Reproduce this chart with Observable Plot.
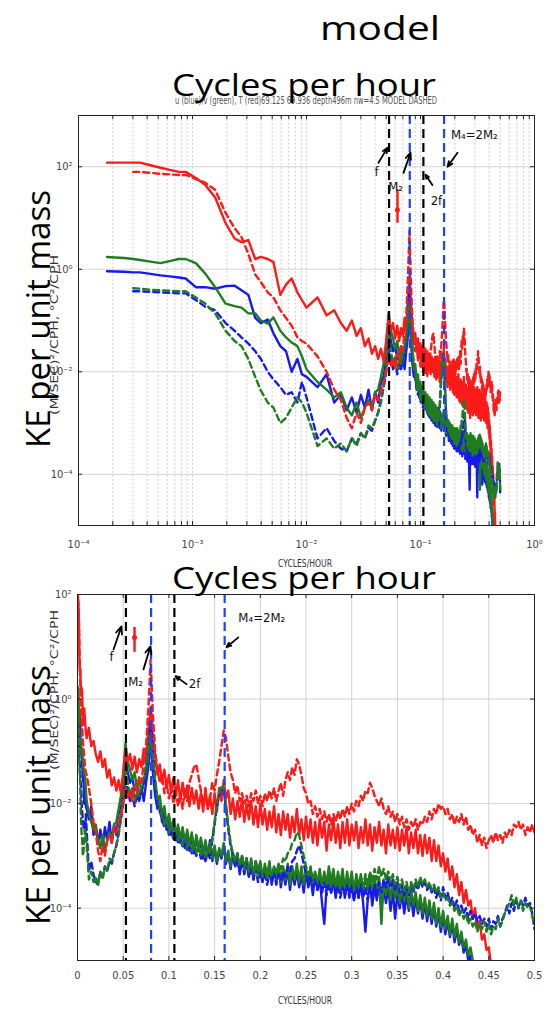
<!DOCTYPE html>
<html><head><meta charset="utf-8">
<script src="https://cdn.jsdelivr.net/npm/d3@7"></script>
<script src="https://cdn.jsdelivr.net/npm/@observablehq/plot@0.6"></script>
<style>
body{margin:0;background:#fff;width:552px;height:1009px;overflow:hidden;position:relative}
#topPanel,#botPanel{position:absolute;left:0}
#topPanel{top:0px}
#botPanel{top:580px}
#overlay{position:absolute;left:0;top:0;pointer-events:none}
</style></head><body>
<div id="topPanel"></div><div id="botPanel"></div>
<svg id="overlay" width="552" height="1009"></svg>
<script>
// ---------- DATA (log10 of spectral density) ----------
// low-frequency band-averaged estimates (cph)
const lowFreq = [0.000178,0.000251,0.000302,0.000347,0.000427,0.000525,0.000631,0.000759,0.000871,0.00107,
  0.00129,0.00158,0.00195,0.00234,0.00269,0.00309,0.00355,0.00398,0.00457,0.00513,
  0.00589,0.00661,0.00741,0.00832,0.00912];
// high-frequency estimates on a regular 0.0025 cph grid from 0.01 to 0.5 cph
const highFreq = d3.range(197).map(i => +(0.01 + 0.0025 * i).toFixed(4));
const freq = lowFreq.concat(highFreq);

const uObs = [-0.04,-0.05,-0.06,-0.06,-0.09,-0.12,-0.14,-0.16,-0.18,-0.35,-0.35,-0.38,-0.33,-0.32,-0.41,-0.5,-0.95,-1.05,-0.98,-1.25,-1.5,-1.6,-2.0,-1.75,-2.05,
 -2.1,-2.3,-2.05,-2.6,-2.45,-2.75,-2.5,-2.8,-2.45,-2.7,
 -2.35,-2.75,-2.4,-2.6,-2.2,-2.1,-1.75,-1.1,-1.4,-1.6,
 -1.5,-1.75,-1.6,-1.9,-1.7,-1.95,-1.6,-1.3,-0.8,-1.4,
 -1.85,-2.1,-2.0,-2.35,-2.15,-2.5,-2.3,-2.6,-2.35,-2.7,
 -2.45,-2.75,-2.5,-2.85,-2.55,-2.9,-2.6,-2.95,-2.65,-2.9,
 -2.7,-3.05,-2.75,-3.0,-2.7,-3.1,-2.85,-3.15,-2.9,-3.05,
 -2.8,-3.15,-2.95,-3.25,-2.95,-3.2,-3.0,-3.35,-3.0,-3.3,
 -3.05,-3.4,-3.1,-3.45,-3.1,-3.35,-3.15,-3.5,-3.2,-3.45,
 -3.15,-3.55,-3.25,-3.5,-3.2,-3.6,-3.3,-3.55,-3.25,-3.65,
 -3.3,-3.55,-3.3,-3.6,-3.35,-3.7,-3.3,-3.6,-3.4,-3.75,
 -3.35,-3.65,-3.4,-3.9,-4.3,-3.6,-3.35,-3.7,-3.4,-3.8,
 -3.45,-3.7,-3.4,-3.8,-3.5,-3.75,-3.45,-3.85,-3.5,-3.8,
 -3.5,-3.9,-4.45,-3.85,-3.5,-3.95,-3.6,-3.85,-3.55,-4.0,
 -3.6,-3.9,-3.6,-4.05,-3.65,-4.2,-3.7,-4.0,-3.7,-4.1,
 -3.75,-4.05,-3.75,-4.15,-3.8,-4.1,-3.85,-4.2,-3.9,-4.25,
 -3.95,-4.3,-4.0,-4.35,-4.1,-4.45,-4.15,-4.5,-4.25,-4.55,
 -4.3,-4.65,-4.4,-4.7,-4.55,-4.85,-4.7,-5.0,-4.9,-5.2,
 -5.4,null,null,null,null,null,null,null,null,null,
 null,null,null,null,null,null,null,null,null,null,
 null,null,null,null,null,null,null];

const vObs = [0.24,0.22,0.2,0.18,0.15,0.12,0.16,0.2,0.2,0.12,-0.08,-0.35,-0.67,-0.72,-0.75,-0.86,-0.86,-1.0,-1.06,-0.94,-1.2,-1.33,-1.43,-1.5,-1.7,
 -1.95,-2.2,-2.35,-2.5,-2.4,-2.7,-2.85,-2.6,-2.9,-2.7,
 -2.55,-2.7,-2.4,-2.35,-2.1,-1.85,-1.5,-0.85,-1.2,-1.35,
 -1.55,-1.4,-1.7,-1.5,-1.8,-1.6,-1.4,-1.05,-0.6,-1.2,
 -1.6,-1.95,-1.85,-2.2,-2.05,-2.4,-2.2,-2.5,-2.3,-2.6,
 -2.4,-2.7,-2.45,-2.75,-2.5,-2.8,-2.55,-2.9,-2.6,-2.85,
 -2.65,-2.95,-2.7,-3.0,-2.75,-3.05,-2.8,-3.1,-2.85,-3.0,
 -2.75,-3.1,-2.9,-3.2,-2.95,-3.15,-2.95,-3.3,-3.0,-3.25,
 -3.05,-3.35,-3.05,-3.4,-3.1,-3.3,-3.1,-3.45,-3.15,-3.4,
 -3.1,-3.5,-3.2,-3.45,-3.15,-3.5,-3.2,-3.45,-3.15,-3.55,
 -3.2,-3.45,-3.15,-3.5,-3.2,-3.55,-3.25,-3.5,-3.2,-3.6,
 -3.3,-3.55,-3.25,-3.6,-3.3,-3.55,-3.2,-3.5,-3.25,-3.6,
 -3.3,-3.55,-3.25,-3.65,-3.3,-3.6,-3.3,-3.7,-3.35,-3.6,
 -3.35,-3.7,-3.4,-3.65,-3.35,-3.75,-3.4,-3.7,-3.4,-4.3,
 -3.45,-3.75,-3.45,-3.85,-3.5,-3.8,-3.55,-3.9,-3.6,-3.85,
 -3.6,-4.0,-3.65,-3.95,-3.7,-4.05,-3.75,-4.1,-3.8,-4.15,
 -3.85,-4.2,-3.9,-4.3,-4.0,-4.35,-4.05,-4.4,-4.15,-4.5,
 -4.2,-4.55,-4.3,-4.65,-4.45,-4.75,-4.6,-4.9,-4.75,-5.0,
 -5.1,-5.3,null,null,null,null,null,null,null,null,
 null,null,null,null,null,null,null,null,null,null,
 null,null,null,null,null,null,null];

const tObs = [2.08,2.08,2.08,2.08,2.03,1.98,1.94,1.9,1.9,1.78,1.65,1.4,0.9,0.6,0.53,0.57,0.2,0.24,0.2,0.14,-0.5,-0.3,-0.18,-0.45,-0.6,
 -0.75,-0.55,-0.9,-0.8,-1.05,-1.2,-1.0,-1.3,-1.15,-1.5,
 -1.35,-1.65,-1.5,-1.75,-1.55,-1.8,-1.4,-0.95,-1.2,-1.05,
 -1.35,-1.1,-1.4,-1.15,-1.3,-0.95,-1.2,-0.6,-0.15,-0.7,
 -1.1,-1.45,-1.25,-1.6,-1.35,-1.7,-1.45,-1.8,-1.5,-1.85,
 -1.55,-1.95,-1.6,-1.9,-1.65,-2.05,-1.7,-2.0,-1.75,-2.1,
 -1.8,-2.15,-1.7,-2.1,-1.85,-2.2,-1.8,-2.15,-1.7,-1.95,
 -1.55,-1.9,-1.75,-2.2,-1.9,-2.3,-1.95,-2.25,-1.9,-2.35,
 -2.0,-2.3,-1.95,-2.4,-2.05,-2.45,-2.0,-2.4,-2.1,-2.5,
 -2.15,-2.45,-2.05,-2.55,-2.2,-2.6,-2.15,-2.5,-2.2,-2.65,
 -2.25,-2.55,-2.1,-2.6,-2.3,-2.7,-2.25,-2.65,-2.3,-2.75,
 -2.35,-2.8,-2.3,-2.65,-2.35,-2.9,-2.4,-2.7,-2.3,-2.75,
 -2.4,-2.85,-2.35,-2.75,-2.3,-2.8,-2.4,-2.7,-2.35,-2.85,
 -2.45,-2.75,-2.3,-2.8,-2.4,-2.9,-2.45,-2.75,-2.35,-2.8,
 -2.5,-2.95,-2.4,-2.8,-2.5,-2.85,-2.45,-2.9,-2.5,-2.8,
 -2.45,-2.95,-2.55,-2.85,-2.5,-2.95,-2.6,-3.0,-2.6,-2.95,
 -2.65,-3.1,-2.7,-3.1,-2.8,-3.2,-2.95,-3.3,-3.05,-3.45,
 -3.2,-3.6,-3.35,-3.75,-3.5,-3.9,-3.65,-3.95,-3.85,-4.2,
 -4.0,-4.4,-4.25,-4.6,-4.5,-4.8,-4.75,-5.1,-5.3,null,
 null,null,null,null,null,null,null,null,null,null,
 null,null,null,null,null,null,null];

const uMod = [null,null,-0.43,-0.43,-0.44,-0.45,-0.46,-0.47,-0.47,-0.6,-0.73,-0.8,-1.05,-1.2,-1.33,-1.45,-1.6,-1.75,-2.0,-2.15,-2.3,-2.45,-2.4,-2.6,-2.2,
 -2.5,-3.3,-3.1,-3.35,-3.5,-3.55,-3.3,-3.4,-3.2,-3.3,
 -3.1,-3.15,-2.95,-2.8,-2.55,-2.3,-2.0,-1.5,-1.75,-1.95,
 -1.8,-2.05,-1.85,-1.95,-1.75,-1.6,-1.3,-0.9,-0.45,-1.0,
 -1.6,-1.95,-2.15,-2.3,-2.45,-2.35,-2.6,-2.45,-2.7,-2.55,
 -2.75,-2.6,-2.85,-2.7,-2.9,-2.75,-2.95,-2.8,-3.0,-2.85,
 -3.05,-2.9,-3.1,-2.95,-3.05,-2.7,-2.4,-2.05,-1.85,-1.7,
 -1.75,-2.1,-2.5,-2.8,-3.0,-3.2,-3.05,-3.3,-3.1,-3.35,
 -3.15,-3.4,-3.2,-3.45,-3.25,-3.5,-3.3,-3.5,-3.3,-3.55,
 -3.35,-3.5,-3.3,-3.55,-3.35,-3.45,-3.3,-3.4,-3.2,-3.3,
 -3.1,-3.05,-2.9,-2.8,-2.95,-3.15,-3.35,-3.5,-3.4,-3.6,
 -3.45,-3.65,-3.5,-3.7,-3.5,-3.75,-3.55,-3.7,-3.5,-3.75,
 -3.55,-3.8,-3.6,-3.75,-3.55,-3.8,-3.6,-3.85,-3.6,-3.8,
 -3.55,-3.8,-3.6,-3.85,-3.6,-3.8,-3.55,-3.75,-3.5,-3.7,
 -3.45,-3.6,-3.4,-3.6,-3.45,-3.65,-3.5,-3.7,-3.55,-3.75,
 -3.6,-3.75,-3.55,-3.7,-3.5,-3.65,-3.45,-3.6,-3.5,-3.65,
 -3.55,-3.7,-3.6,-3.8,-3.65,-3.85,-3.6,-3.8,-3.7,-3.9,
 -3.8,-4.0,-3.85,-4.05,-3.95,-4.1,-4.0,-4.2,-4.05,-4.2,
 -4.1,-4.25,-4.15,-4.3,-4.2,-4.35,-4.2,-4.4,-4.25,-4.3,
 -4.15,-4.35,-4.2,-4.1,-3.95,-4.1,-3.9,-4.05,-3.85,-4.0,
 -3.85,-3.95,-3.8,-3.95,-3.9,-4.1,-4.4];

const vMod = [null,null,-0.37,-0.38,-0.4,-0.41,-0.42,-0.43,-0.43,-0.55,-0.67,-0.86,-1.2,-1.4,-1.5,-1.75,-2.1,-2.37,-2.6,-2.7,-3.0,-2.9,-2.7,-2.5,-2.6,
 -2.8,-3.45,-3.3,-3.5,-3.4,-3.55,-3.3,-3.45,-3.2,-3.3,
 -3.05,-3.1,-2.95,-2.8,-2.6,-2.3,-1.9,-1.3,-1.6,-1.85,
 -1.7,-1.95,-1.75,-1.85,-1.65,-1.5,-1.25,-0.95,-0.65,-1.1,
 -1.55,-1.9,-2.05,-2.25,-2.4,-2.3,-2.55,-2.4,-2.65,-2.5,
 -2.7,-2.55,-2.8,-2.65,-2.85,-2.7,-2.9,-2.75,-2.95,-2.8,
 -3.0,-2.85,-3.05,-2.9,-2.95,-2.65,-2.35,-2.0,-1.8,-1.65,
 -1.7,-2.0,-2.4,-2.75,-2.95,-3.1,-2.95,-3.2,-3.0,-3.25,
 -3.05,-3.3,-3.1,-3.35,-3.15,-3.4,-3.2,-3.4,-3.2,-3.45,
 -3.25,-3.4,-3.2,-3.35,-3.15,-3.25,-3.05,-3.1,-2.95,-2.9,
 -2.75,-2.7,-2.55,-2.6,-2.8,-3.0,-3.2,-3.35,-3.25,-3.45,
 -3.3,-3.5,-3.35,-3.55,-3.35,-3.55,-3.4,-3.6,-3.4,-3.6,
 -3.45,-3.65,-3.45,-3.6,-3.4,-3.6,-3.4,-3.65,-3.45,-3.6,
 -3.4,-3.6,-3.35,-3.55,-3.3,-3.5,-3.25,-3.45,-3.2,-3.4,
 -3.25,-3.45,-3.3,-3.5,-3.35,-3.55,-3.4,-3.6,-3.45,-3.65,
 -3.5,-3.7,-3.5,-3.65,-3.45,-3.6,-3.4,-3.55,-3.45,-3.6,
 -3.5,-3.65,-3.55,-3.7,-3.6,-3.8,-3.7,-3.85,-3.8,-3.95,
 -3.9,-4.05,-3.95,-4.15,-4.05,-4.2,-4.1,-4.3,-4.2,-4.35,
 -4.25,-4.45,-4.3,-4.4,-4.25,-4.45,-4.3,-4.5,-4.35,-4.4,
 -4.2,-4.35,-4.25,-4.1,-4.0,-3.9,-3.75,-3.95,-3.8,-4.0,
 -3.85,-4.05,-3.9,-4.0,-3.95,-4.15,-4.3];

const tMod = [null,null,1.9,1.9,1.88,1.86,1.85,1.84,1.84,1.76,1.69,1.55,1.1,0.8,0.63,0.3,-0.1,-0.25,-0.45,-0.55,-0.8,-0.95,-1.1,-1.33,-1.4,
 -1.45,-1.7,-2.0,-2.35,-2.55,-2.9,-3.1,-2.8,-3.0,-2.7,
 -2.6,-2.75,-2.45,-2.55,-2.35,-2.2,-2.0,-1.7,-1.9,-1.75,
 -1.95,-1.65,-1.8,-1.5,-1.6,-1.2,-0.9,-0.2,0.75,-0.3,
 -1.0,-1.35,-1.6,-1.45,-1.8,-1.6,-1.9,-1.7,-2.0,-1.75,
 -2.05,-1.8,-2.1,-1.7,-1.95,-1.6,-1.45,-1.3,-1.25,-1.5,
 -1.75,-2.0,-1.85,-2.1,-1.9,-1.6,-1.75,-1.45,-1.2,-0.9,
 -0.6,-0.75,-1.1,-1.4,-1.55,-1.8,-1.65,-1.95,-1.8,-2.0,
 -1.85,-2.05,-1.8,-1.95,-1.75,-2.0,-1.85,-2.05,-1.8,-1.95,
 -1.75,-1.9,-1.7,-1.95,-1.75,-1.6,-1.85,-1.55,-1.4,-1.55,
 -1.3,-1.45,-1.15,-1.25,-1.45,-1.7,-1.8,-2.0,-1.95,-2.2,
 -2.05,-2.25,-2.1,-2.3,-2.15,-2.35,-2.2,-2.4,-2.2,-2.35,
 -2.15,-2.3,-2.1,-2.25,-2.05,-2.2,-2.0,-2.15,-1.95,-2.05,
 -1.85,-1.95,-1.75,-1.8,-1.6,-1.7,-1.85,-1.95,-2.05,-1.9,
 -2.1,-2.2,-2.05,-2.25,-2.15,-2.35,-2.2,-2.4,-2.25,-2.45,
 -2.3,-2.5,-2.35,-2.45,-2.3,-2.5,-2.35,-2.4,-2.25,-2.35,
 -2.15,-2.3,-2.1,-2.2,-2.0,-2.1,-2.05,-2.2,-2.1,-2.3,
 -2.2,-2.4,-2.25,-2.35,-2.2,-2.4,-2.25,-2.5,-2.4,-2.6,
 -2.5,-2.75,-2.6,-2.8,-2.65,-2.85,-2.7,-2.6,-2.75,-2.55,
 -2.7,-2.6,-2.75,-2.55,-2.65,-2.5,-2.6,-2.4,-2.45,-2.35,
 -2.5,-2.4,-2.6,-2.45,-2.55,-2.4,-2.55];

// reference frequencies (cph)
const refBlack = [0.053, 0.106];   // f, 2f
const refBlue  = [0.0805, 0.161];  // M2, M4
// tick values
const xTicksLog = [1e-4, 1e-3, 1e-2, 1e-1, 1];
const xTicksLin = [0,0.05,0.1,0.15,0.2,0.25,0.3,0.35,0.4,0.45,0.5];
const yTicks = [1e2, 1, 1e-2, 1e-4];

// annotations (data coordinates)
const topArrows = [
  {x1:0.0428, y1:120, x2:0.0514, y2:236},
  {x1:0.0710, y1:76,  x2:0.0817, y2:188},
  {x1:0.127,  y1:44,  x2:0.1107, y2:70},
  {x1:0.211,  y1:188, x2:0.1726, y2:100}];
const topLabels = [
  {x:0.0411, y:79, text:"f", anchor:"middle"},
  {x:0.0604, y:41, text:"M₂", anchor:"middle"},
  {x:0.138,  y:22, text:"2f", anchor:"middle"},
  {x:0.185,  y:423, text:"M₄=2M₂", anchor:"start"}];
const topBar = [{x:0.0628, y1:35.6, y2:7.9, y:14.4}];
const botArrows = [
  {x1:0.0394, y1:8.9,  x2:0.0481, y2:24.5},
  {x1:0.0722, y1:3.7,  x2:0.0799, y2:10.2},
  {x1:0.1193, y1:1.93, x2:0.1072, y2:2.74},
  {x1:0.176,  y1:15.1, x2:0.163,  y2:9.8}];
const botLabels = [
  {x:0.0372, y:6.3, text:"f", anchor:"middle"},
  {x:0.0635, y:2.1, text:"M₂", anchor:"middle"},
  {x:0.128,  y:1.94, text:"2f", anchor:"middle"},
  {x:0.176,  y:36, text:"M₄=2M₂", anchor:"start"}];
const botBar = [{x:0.0624, y1:23.4, y2:7.85, y:15.1}];

// ---------- STYLE ----------
const RED = "#ff1a1a", BLUE = "#1818f0", GREEN = "#1f7d1f", REFBLUE = "#2040ff";
const SMALL = '"Liberation Sans Narrow","DejaVu Sans Condensed","Arial Narrow",sans-serif';
const BIG = '"Open Sans","Noto Sans",sans-serif';
const seriesDefs = [
  {vals:uObs, color:BLUE, dash:false},
  {vals:vObs, color:GREEN, dash:false},
  {vals:tObs, color:RED, dash:false},
  {vals:uMod, color:BLUE, dash:true},
  {vals:vMod, color:GREEN, dash:true},
  {vals:tMod, color:RED, dash:true}];

const sup = s => String(s).replace(/[-0-9]/g, c => ({"-":"⁻","0":"⁰","1":"¹","2":"²","3":"³","4":"⁴","5":"⁵"}[c]));
const fmtPow = d => "10" + sup(Math.round(Math.log10(d)));

function lineMarks() {
  return seriesDefs.map(s => Plot.line(
    freq.map((f, i) => ({f, p: s.vals[i] == null ? NaN : Math.pow(10, s.vals[i])})),
    {x:"f", y:"p", stroke:s.color, strokeWidth:2.4, strokeDasharray: s.dash ? "6,4" : undefined, clip:true}));
}
function annoMarks(arrows, labels, bar) {
  return [
    Plot.ruleX(bar, {x:"x", y1:"y1", y2:"y2", stroke:RED, strokeWidth:2.5}),
    Plot.dot(bar, {x:"x", y:"y", r:2.5, fill:RED}),
    Plot.arrow(arrows, {x1:"x1", y1:"y1", x2:"x2", y2:"y2", stroke:"#000", strokeWidth:1.8, headLength:10, headAngle:45}),
    Plot.text(labels.filter(d => d.anchor === "middle"), {x:"x", y:"y", text:"text", fontSize:13, fontFamily:SMALL, fill:"#111", textAnchor:"middle"}),
    Plot.text(labels.filter(d => d.anchor === "start"), {x:"x", y:"y", text:"text", fontSize:13, fontFamily:SMALL, fill:"#111", textAnchor:"start"})
  ];
}
function tickMarks(xs, ys, innerW, innerH) {
  return [
    Plot.tickX(xs, {insetTop: innerH - 4, stroke:"#222"}),
    Plot.tickX(xs, {insetBottom: innerH - 4, stroke:"#222"}),
    Plot.tickY(ys, {insetRight: innerW - 4, stroke:"#222"}),
    Plot.tickY(ys, {insetLeft: innerW - 4, stroke:"#222"})
  ];
}

// ---------- TOP PANEL (log-log) ----------
const xMinor = [];
for (const e of [-4,-3,-2,-1]) for (let k = 1; k < 10; k++) xMinor.push(k * Math.pow(10, e));
xMinor.push(1);

const topChart = Plot.plot({
  width:552, height:580, marginLeft:78, marginRight:18, marginTop:115, marginBottom:55,
  style:{background:"transparent", overflow:"visible"},
  x:{type:"log", domain:[1e-4, 1]},
  y:{type:"log", domain:[1e-5, 1e3]},
  marks:[
    Plot.ruleX(xMinor, {stroke:"#c4c4c4", strokeDasharray:"1.5,2.5"}),
    Plot.ruleY(yTicks, {stroke:"#d2d2d2"}),
    ...lineMarks(),
    Plot.ruleX(refBlack, {stroke:"#000", strokeWidth:2.2, strokeDasharray:"9,5"}),
    Plot.ruleX(refBlue, {stroke:REFBLUE, strokeWidth:2.2, strokeDasharray:"9,5"}),
    ...annoMarks(topArrows, topLabels, topBar),
    Plot.frame({stroke:"#222"}),
    ...tickMarks(xMinor, yTicks, 456, 410),
    Plot.axisX(xTicksLog, {tickFormat:fmtPow, tickSize:0, tickPadding:15, fontSize:11, fontFamily:SMALL, fill:"#444", label:null}),
    Plot.axisY(yTicks, {tickFormat:fmtPow, tickSize:0, tickPadding:6, fontSize:11, fontFamily:SMALL, fill:"#444", label:null})
  ]
});
document.getElementById("topPanel").append(topChart);

// ---------- BOTTOM PANEL (linear x, log y) ----------
const botChart = Plot.plot({
  width:552, height:429, marginLeft:77, marginRight:18, marginTop:14, marginBottom:49,
  style:{background:"transparent", overflow:"visible"},
  x:{domain:[0, 0.5]},
  y:{type:"log", domain:[1e-5, 1e2]},
  marks:[
    Plot.ruleX(xTicksLin, {stroke:"#d2d2d2"}),
    Plot.ruleY(yTicks, {stroke:"#d2d2d2"}),
    ...lineMarks(),
    Plot.ruleX(refBlack, {stroke:"#000", strokeWidth:2.2, strokeDasharray:"9,5"}),
    Plot.ruleX(refBlue, {stroke:REFBLUE, strokeWidth:2.2, strokeDasharray:"9,5"}),
    ...annoMarks(botArrows, botLabels, botBar),
    Plot.frame({stroke:"#222"}),
    ...tickMarks(xTicksLin, yTicks, 457, 366),
    Plot.axisX(xTicksLin, {tickFormat:d => String(+d.toFixed(2)), tickSize:0, tickPadding:11, fontSize:11, fontFamily:SMALL, fill:"#444", label:null}),
    Plot.axisY(yTicks, {tickFormat:fmtPow, tickSize:0, tickPadding:6, fontSize:11, fontFamily:SMALL, fill:"#444", label:null})
  ]
});
document.getElementById("botPanel").append(botChart);

// ---------- TEXT OVERLAY ----------
const captions = [
  {text:"u (blue),v (green), T (red)69.125  69.936 depth496m  nw=4.5 MODEL DASHED", x:175, y:104, size:10, len:262, fill:"#555", font:SMALL},
  {text:"CYCLES/HOUR", x:305, y:567, size:10, len:54, fill:"#333", font:SMALL, anchor:"middle"},
  {text:"CYCLES/HOUR", x:305, y:1004, size:10, len:54, fill:"#333", font:SMALL, anchor:"middle"},
  {text:"(M/SEC)²/CPH, °C²/CPH", x:58, y:335, size:10, len:160, fill:"#333", font:SMALL, anchor:"middle", rot:true},
  {text:"(M/SEC)²/CPH, °C²/CPH", x:58, y:690, size:10, len:160, fill:"#333", font:SMALL, anchor:"middle", rot:true},
  {text:"model", x:320, y:40, size:33, len:120, font:BIG},
  {text:"Cycles per hour", x:172, y:96, size:31, len:264, font:BIG},
  {text:"Cycles per hour", x:172, y:589, size:31, len:264, font:BIG},
  {text:"KE per unit mass", x:50, y:319, size:33, len:258, font:BIG, anchor:"middle", rot:true},
  {text:"KE per unit mass", x:50, y:795, size:33, len:260, font:BIG, anchor:"middle", rot:true}
];
const ov = d3.select("#overlay");
for (const c of captions) {
  const t = ov.append("text").attr("x", c.x).attr("y", c.y).text(c.text)
    .attr("font-size", c.size).attr("font-family", c.font).attr("font-weight", 400).attr("fill", c.fill || "#000")
    .attr("textLength", c.len).attr("lengthAdjust", "spacingAndGlyphs");
  if (c.anchor) t.attr("text-anchor", c.anchor);
  if (c.rot) t.attr("transform", `rotate(-90 ${c.x} ${c.y})`);
}
</script>
</body></html>
